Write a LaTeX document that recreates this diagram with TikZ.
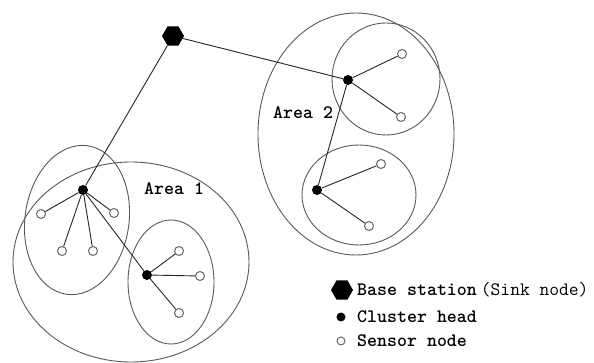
\documentclass[tikz,border=0pt]{standalone}
\usepackage{fontspec}
\usetikzlibrary{shapes.geometric}
\begin{document}
\begin{tikzpicture}[x=1pt,y=-1pt,
  area/.style={draw=black!65,line width=0.9pt},
  link/.style={draw=black!85,line width=0.9pt},
  ch/.style={circle,fill=black,inner sep=0pt,minimum size=10pt},
  sn/.style={circle,draw=black!60,fill=white,line width=1pt,inner sep=0pt,minimum size=9pt},
  bs/.style={regular polygon,regular polygon sides=6,fill=black,inner sep=0pt,minimum size=22pt},
  lbl/.style={font=\ttfamily\bfseries\fontsize{19}{19}\selectfont,inner sep=0pt,anchor=west}]
\useasboundingbox[fill=white] (0,0) rectangle (594,363);
% areas and clusters
\draw[area] (131,262) ellipse [x radius=118,y radius=100];
\draw[area,rotate around={-8:(77,220)}] (77,220) ellipse [x radius=52,y radius=75];
\draw[area] (171,282) ellipse [x radius=43,y radius=62];
\draw[area] (356,134) ellipse [x radius=98,y radius=121];
\draw[area] (386,79) ellipse [x radius=54,y radius=56];
\draw[area] (359,195) ellipse [x radius=57,y radius=50];
% nodes
\node[bs] (bs) at (173,36) {};
\node[ch] (c1) at (83,190) {};
\node[ch] (c2) at (147,275) {};
\node[ch] (c3) at (348,80) {};
\node[ch] (c4) at (317,190) {};
\node[sn] (s11) at (41,214) {};
\node[sn] (s12) at (114,213) {};
\node[sn] (s13) at (62,251) {};
\node[sn] (s14) at (93,251) {};
\node[sn] (s21) at (179,251) {};
\node[sn] (s22) at (200,276) {};
\node[sn] (s23) at (179,313) {};
\node[sn] (s31) at (402,54) {};
\node[sn] (s32) at (401,117) {};
\node[sn] (s41) at (381,164) {};
\node[sn] (s42) at (369,226) {};
% links
\draw[link] (bs) -- (c1);
\draw[link] (bs) -- (c3);
\draw[link] (c3) -- (c4);
\draw[link] (c1) -- (c2);
\foreach \s in {s11,s12,s13,s14} \draw[link] (c1) -- (\s);
\foreach \s in {s21,s22,s23} \draw[link] (c2) -- (\s);
\foreach \s in {s31,s32} \draw[link] (c3) -- (\s);
\foreach \s in {s41,s42} \draw[link] (c4) -- (\s);
% labels
\node[lbl] (a1) at (144,189) {Area 1};
\node[lbl] (a2) at (273,113) {Area 2};
% legend
\node[bs] (lbs) at (342,290) {};
\node[lbl] (lt1) at (357,290) {Base station\hspace{4pt}{\mdseries(Sink node)}};
\node[ch,minimum size=9pt] (lch) at (341,317) {};
\node[lbl] (lt2) at (357,317) {Cluster head};
\node[sn,minimum size=8pt] (lsn) at (341,341) {};
\node[lbl] (lt3) at (357,341) {Sensor node};
\end{tikzpicture}
\end{document}
